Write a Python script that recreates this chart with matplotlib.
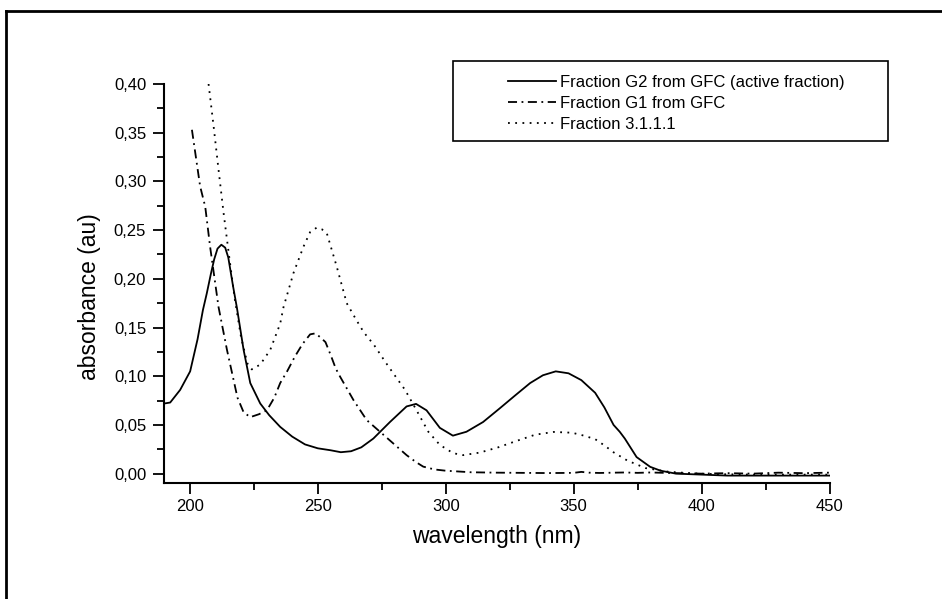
import matplotlib
matplotlib.use("Agg")
import matplotlib.pyplot as plt
from matplotlib.lines import Line2D
from matplotlib.patches import Rectangle
from matplotlib.ticker import MultipleLocator, FuncFormatter

plt.rcParams['font.family'] = ['Liberation Sans', 'DejaVu Sans']

# Fraction G2 from GFC (active fraction) - solid
g2_x = [190, 192.3, 196.2, 200.1, 203, 205.1, 206.6, 208.2, 209.5, 210.8, 212.3, 213.8,
        215, 216.9, 218.4, 221, 223.6, 227.5, 231, 235.3, 240, 245, 250, 255, 259, 263,
        267, 271.7, 278.2, 284.7, 288.4, 292.5, 297.7, 302.8, 308.1, 314.6, 321.1, 327,
        333, 338, 343, 348, 353, 358.4, 362, 365.6, 368, 370, 374.6, 379.9, 384, 390,
        400, 410, 420, 430, 440, 450]
g2_y = [0.072, 0.073, 0.086, 0.105, 0.138, 0.168, 0.185, 0.205, 0.220, 0.231, 0.235,
        0.232, 0.222, 0.192, 0.170, 0.127, 0.093, 0.072, 0.060, 0.048, 0.038, 0.030,
        0.026, 0.024, 0.022, 0.023, 0.027, 0.036, 0.053, 0.069, 0.0716, 0.065, 0.047,
        0.039, 0.043, 0.053, 0.067, 0.080, 0.093, 0.101, 0.105, 0.103, 0.096, 0.083,
        0.068, 0.050, 0.043, 0.036, 0.017, 0.007, 0.003, 0.000, -0.001, -0.002,
        -0.002, -0.002, -0.002, -0.002]

# Fraction G1 from GFC - dash-dot
g1_x = [200.8, 204, 206, 207.9, 211.2, 214.5, 218.6, 221, 223.6, 227, 230.1, 233, 235.3,
        238, 241, 244, 247, 249, 251, 253, 255, 257, 258.7, 263.9, 269.1, 274.3, 279.5,
        284.7, 288.4, 291.2, 295.6, 300, 310, 320, 330, 340, 350, 353, 356, 360, 370,
        375, 380, 390, 400, 410, 420, 430, 440, 450]
g1_y = [0.353, 0.295, 0.274, 0.233, 0.171, 0.127, 0.078, 0.063, 0.058, 0.061, 0.065,
        0.078, 0.093, 0.105, 0.120, 0.133, 0.143, 0.144, 0.140, 0.135, 0.122, 0.108,
        0.0996, 0.0757, 0.055, 0.043, 0.031, 0.019, 0.0118, 0.0072, 0.0043, 0.003,
        0.0014, 0.001, 0.0008, 0.0006, 0.0008, 0.0018, 0.001, 0.0007, 0.0012, 0.0008,
        0.0012, 0.0005, 0.0, 0.0005, 0.0, 0.001, 0.0005, 0.001]

# Fraction 3.1.1.1 - dotted
f3_x = [207.3, 209.3, 211.2, 213.2, 215.2, 217.5, 220, 222.5, 224.2, 227.5, 231.4,
        235.3, 236.6, 240.5, 244.4, 247, 249.6, 251.5, 253.5, 257.4, 261.3, 265, 268,
        272, 276.3, 279.5, 284.1, 288.6, 293.2, 297.7, 302.9, 306.8, 313.3, 320.5,
        327.8, 335, 342.2, 349.4, 354, 358.4, 362, 365.6, 371, 378.1, 387, 395, 405,
        420, 435, 450]
f3_y = [0.40, 0.356, 0.312, 0.267, 0.226, 0.18, 0.14, 0.113, 0.107, 0.112, 0.127, 0.154,
        0.171, 0.206, 0.233, 0.248, 0.2526, 0.251, 0.247, 0.2125, 0.175, 0.158, 0.145,
        0.132, 0.115, 0.103, 0.086, 0.065, 0.043, 0.0295, 0.021, 0.019, 0.0216, 0.027,
        0.0337, 0.040, 0.0428, 0.042, 0.039, 0.0354, 0.029, 0.0219, 0.0134, 0.0057,
        0.002, 0.0005, -0.0005, -0.001, -0.001, -0.001]

labels = ['Fraction G2 from GFC (active fraction)', 'Fraction G1 from GFC',
          'Fraction 3.1.1.1']

W, H = 942, 599
fig = plt.figure(figsize=(W / 100, H / 100), dpi=100)
ax = fig.add_axes([164.3 / W, 1 - 482.7 / H, (829.5 - 164.3) / W, (482.7 - 84) / H])

lw = 1.3
l1, = ax.plot(g2_x, g2_y, color='black', lw=lw, linestyle='-')
l2, = ax.plot(g1_x, g1_y, color='black', lw=lw, linestyle=(0, (5, 2.5, 1, 2.5)))
l3, = ax.plot(f3_x, f3_y, color='black', lw=lw, linestyle=(0, (1, 3)))

ax.set_xlim(190, 450)
ax.set_ylim(-0.0093, 0.40)
for s in ['top', 'right']:
    ax.spines[s].set_visible(False)
for s in ['left', 'bottom']:
    ax.spines[s].set_linewidth(1.5)

ax.xaxis.set_major_locator(MultipleLocator(50))
ax.xaxis.set_minor_locator(MultipleLocator(25))
ax.yaxis.set_major_locator(MultipleLocator(0.05))
ax.yaxis.set_minor_locator(MultipleLocator(0.025))
ax.yaxis.set_major_formatter(FuncFormatter(lambda v, p: f"{v:.2f}".replace('.', ',')))
ax.tick_params(which='major', length=8, width=1.3, labelsize=12, direction='out')
ax.tick_params(which='minor', length=5, width=1.3, direction='out')
ax.tick_params(axis='x', pad=4)
ax.tick_params(axis='y', pad=5)

ax.set_xlabel('wavelength (nm)', fontsize=16.5)
ax.set_ylabel('absorbance (au)', fontsize=16.5)
ax.xaxis.set_label_coords(0.5, -0.106)
ax.yaxis.set_label_coords(-0.095, 0.466)

# legend box drawn in figure pixels
fig.patches.append(Rectangle((453 / W, 1 - 141 / H), (888 - 453) / W, 80 / H,
                             transform=fig.transFigure, fill=False, edgecolor='black',
                             linewidth=1.2))
fig.legend([l1, l2, l3], labels, loc='upper left', bbox_to_anchor=(508 / W, 1 - 74.5 / H),
           frameon=False, fontsize=12, handlelength=2.87, handletextpad=0.25,
           borderpad=0, borderaxespad=0, labelspacing=0.37)

# outer page frame
fig.lines.append(Line2D([6 / W, 6 / W], [0, 1 - 11 / H], transform=fig.transFigure,
                        color='black', lw=2))
fig.lines.append(Line2D([6 / W, 1], [1 - 11 / H, 1 - 11 / H], transform=fig.transFigure,
                        color='black', lw=2))

fig.savefig('out.png', dpi=100)
